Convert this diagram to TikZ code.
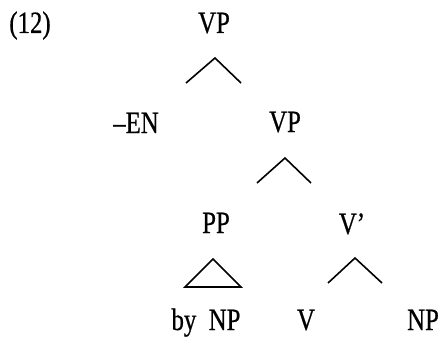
\documentclass[tikz,border=0pt]{standalone}
\usepackage{fontspec}
\setmainfont{Liberation Serif}[FakeStretch=0.8,FakeBold=0.6]
\begin{document}
\begin{tikzpicture}[x=1pt,y=-1pt,
  lab/.style={inner sep=0pt,anchor=base,font=\fontsize{31}{31}\selectfont},
  branch/.style={line width=1.6pt,line cap=butt,line join=miter}]
\useasboundingbox (0,0) rectangle (441,337);
\node[lab] (ex) at (30,33) {(12)};
\node[lab] (vp1) at (214,33) {VP};
\node[lab] (en) at (136,133) {\textendash EN};
\node[lab] (vp2) at (285,132) {VP};
\node[lab] (pp) at (216,233) {PP};
\node[lab] (vbar) at (352,234) {V'};
\node[lab] (bynp) at (206,330) {by\hspace{0.4em}NP};
\node[lab] (v) at (306,330) {V};
\node[lab] (np) at (423,330) {NP};
% branch coordinates
\coordinate (a1) at (215,58); \coordinate (l1) at (186,83); \coordinate (r1) at (241,83);
\coordinate (a2) at (285,158); \coordinate (l2) at (257,183); \coordinate (r2) at (311,183);
\coordinate (a3) at (213,259); \coordinate (l3) at (185,287); \coordinate (r3) at (241,287);
\coordinate (a4) at (355,258); \coordinate (l4) at (328,283); \coordinate (r4) at (382,283);
\draw[branch] (l1) -- (a1) -- (r1);
\draw[branch] (l2) -- (a2) -- (r2);
\draw[branch] (l3) -- (a3) -- (r3) -- cycle;
\draw[branch] (l4) -- (a4) -- (r4);
\end{tikzpicture}
\end{document}
